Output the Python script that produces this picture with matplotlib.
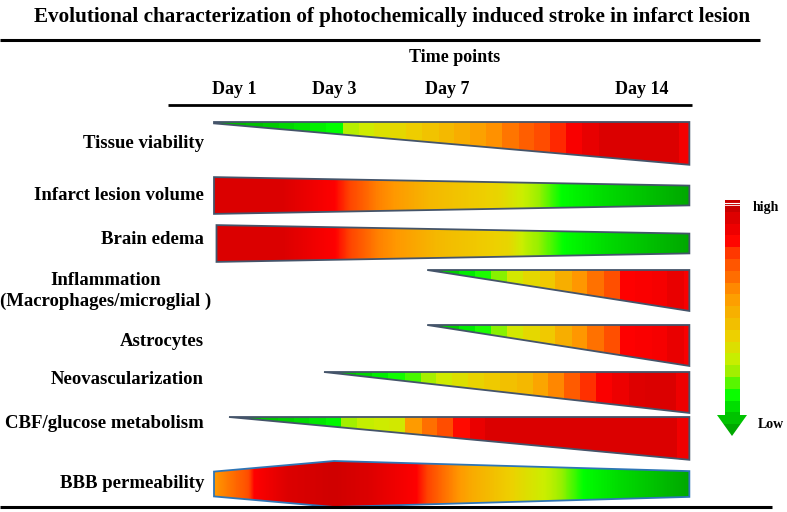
import numpy as np
import matplotlib.pyplot as plt
from matplotlib.colors import LinearSegmentedColormap
from matplotlib.patches import Polygon

plt.rcParams['font.family'] = ['Liberation Serif', 'DejaVu Serif']
plt.rcParams['font.weight'] = 'bold'

# ---- data ----
title = "Evolutional characterization of photochemically induced stroke in infarct lesion"
time_days = [1, 3, 7, 14]
time_labels = ["Day 1", "Day 3", "Day 7", "Day 14"]

rows = ["Tissue viability", "Infarct lesion volume", "Brain edema",
        "Inflammation\n(Macrophages/microglial )", "Astrocytes",
        "Neovascularization", "CBF/glucose metabolism", "BBB permeability"]

# relative magnitude (band thickness) along the time line
size_days = [[0.6, 15.7], [0.6, 15.7], [0.65, 15.7], [6.3, 15.7], [6.3, 15.7],
             [2.8, 15.7], [0.9, 15.7], [0.6, 3.0, 15.7]]
size_vals = [[0.03, 0.93], [0.8, 0.43], [0.8, 0.43], [0.0, 0.89], [0.0, 0.89],
             [0.0, 0.89], [0.0, 0.93], [0.54, 1.0, 0.56]]

# colour level along the time line (0 = low, 1 = high)
level_days = [
    [0.6, 3.0, 3.6, 5.3, 7.1, 8.5, 9.6, 10.7, 11.4, 12.5, 15.1, 15.7],
    [0.6, 2.0, 3.0, 4.5, 6.4, 8.9, 9.9, 11.1, 15.7],
    [0.65, 2.0, 3.0, 4.5, 6.6, 9.2, 9.8, 11.2, 15.7],
    [6.3, 8.65, 9.5, 10.7, 11.3, 11.9, 12.5, 13.1, 13.4, 15.1, 15.4, 15.7],
    [6.3, 8.65, 9.5, 10.7, 11.3, 11.9, 12.5, 13.1, 13.4, 15.1, 15.4, 15.7],
    [2.8, 5.8, 6.75, 8.2, 9.8, 10.7, 11.3, 11.9, 12.5, 13.9, 15.1, 15.7],
    [0.9, 3.3, 3.6, 5.7, 5.8, 6.5, 7.1, 7.6, 8.4, 15.0, 15.7],
    [0.6, 1.26, 1.4, 2.06, 2.98, 4.2, 5.9, 6.75, 7.8, 9.5, 10.7, 11.9, 15.7],
]
level_vals = [
    [0.0, 0.15, 0.3, 0.4, 0.5, 0.6, 0.7, 0.78, 0.85, 0.95, 0.95, 0.87],
    [0.95, 0.95, 0.85, 0.65, 0.5, 0.4, 0.3, 0.15, 0.0],
    [0.95, 0.95, 0.85, 0.65, 0.5, 0.4, 0.3, 0.15, 0.0],
    [0.0, 0.2, 0.35, 0.45, 0.55, 0.62, 0.7, 0.78, 0.85, 0.88, 0.98, 0.87],
    [0.0, 0.2, 0.35, 0.45, 0.55, 0.62, 0.7, 0.78, 0.85, 0.88, 0.98, 0.87],
    [0.0, 0.2, 0.32, 0.42, 0.5, 0.6, 0.7, 0.78, 0.85, 0.95, 0.95, 0.87],
    [0.0, 0.15, 0.3, 0.35, 0.6, 0.7, 0.78, 0.85, 0.95, 0.95, 0.87],
    [0.6, 0.75, 0.85, 0.95, 0.98, 0.95, 0.85, 0.7, 0.55, 0.4, 0.3, 0.15, 0.0],
]

# ---- layout / style ----
tick_x = [234, 334, 447, 642]          # canvas position of the day ticks
row_y = [122, 195.5, 243.5, 270, 325, 372, 417, 484]
row_anchor = ['top', 'center', 'center', 'top', 'top', 'top', 'top', 'center']
label_y = [143, 196, 239, 291, 341, 380, 424, 483]
stepped = [True, False, False, True, True, True, True, False]
edge_cols = ['#44546a'] * 7 + ['#2e75b6']
MAX_H = 46
STRIP = 16

cmap = LinearSegmentedColormap.from_list('hl', [
    (0.0, '#00a800'), (0.1, '#00dd00'), (0.15, '#00ff00'), (0.25, '#99f000'),
    (0.32, '#ccee00'), (0.42, '#eed000'), (0.5, '#f5b800'), (0.6, '#ff9900'),
    (0.7, '#ff6600'), (0.78, '#ff4400'), (0.85, '#ff0000'), (0.95, '#dd0000'),
    (1.0, '#c80000')])


def day_to_x(d):
    d = np.asarray(d, float)
    x = np.interp(d, time_days, tick_x)
    s0 = (tick_x[1] - tick_x[0]) / (time_days[1] - time_days[0])
    s1 = (tick_x[-1] - tick_x[-2]) / (time_days[-1] - time_days[-2])
    x = np.where(d < time_days[0], tick_x[0] + (d - time_days[0]) * s0, x)
    x = np.where(d > time_days[-1], tick_x[-1] + (d - time_days[-1]) * s1, x)
    return x


fig = plt.figure(figsize=(7.87, 5.12), dpi=100)
ax = fig.add_axes([0, 0, 1, 1])
ax.axis('off')

# header
ax.text(392, 17, title, ha='center', va='center', fontsize=15.2)
ax.plot([0, 760], [40, 40], color='black', lw=2.2, solid_capstyle='butt')
ax.text(455, 58, "Time points", ha='center', va='center', fontsize=13)
for d, lab in zip(time_days, time_labels):
    ax.text(day_to_x(d), 90, lab, ha='center', va='center', fontsize=13)
ax.plot([168, 692], [105, 105], color='black', lw=2, solid_capstyle='butt')
ax.plot([0, 772], [507, 507], color='black', lw=2.2, solid_capstyle='butt')

# bands
for i, name in enumerate(rows):
    xk = day_to_x(size_days[i])
    hk = np.array(size_vals[i]) * MAX_H
    y = row_y[i]
    if row_anchor[i] == 'top':
        top, bot = np.full_like(hk, y), y + hk
    else:
        top, bot = y - hk / 2, y + hk / 2
    verts = np.column_stack([np.r_[xk, xk[::-1]], np.r_[top, bot[::-1]]])
    x0, x1 = xk[0], xk[-1]
    xc = np.linspace(x0, x1, 500)
    if stepped[i]:
        xc = np.minimum(np.floor((xc - x0) / STRIP) * STRIP + x0 + STRIP / 2, x1)
    lev = np.interp(xc, day_to_x(level_days[i]), level_vals[i])
    im = ax.imshow(lev[None, :], cmap=cmap, vmin=0, vmax=1, aspect='auto',
                   interpolation='nearest' if stepped[i] else 'bilinear',
                   extent=(x0, x1, bot.max(), top.min()))
    clip = Polygon(verts, closed=True, fill=False, edgecolor=edge_cols[i],
                   lw=1.3, joinstyle='miter')
    ax.add_patch(clip)
    im.set_clip_path(clip)

    if '\n' in name:
        ax.text(106, label_y[i], name, ha='center', va='center',
                multialignment='center', fontsize=13.5, linespacing=1.3)
    else:
        ax.text(204, label_y[i], name, ha='right', va='center', fontsize=13.5)

# legend arrow (high -> low)
arrow = Polygon([[725, 200], [740, 200], [740, 415], [747, 415], [732, 436],
                 [717, 415], [725, 415]], closed=True, facecolor='none',
                edgecolor='none')
ax.add_patch(arrow)
leg_lev = np.repeat(np.linspace(1, 0, 20), 10)[:, None]
leg_im = ax.imshow(leg_lev, cmap=cmap, vmin=0, vmax=1, aspect='auto',
                   interpolation='nearest', extent=(717, 747, 436, 200))
leg_im.set_clip_path(arrow)
ax.plot([725, 740], [202.5, 202.5], color='white', lw=0.8)
ax.plot([725, 740], [205, 205], color='white', lw=0.6)
ax.text(753, 207, "high", ha='left', va='center', fontsize=10)
ax.text(758, 425, "Low", ha='left', va='center', fontsize=10)

ax.set_xlim(0, 787)
ax.set_ylim(512, 0)
fig.savefig('out.png', dpi=100)
